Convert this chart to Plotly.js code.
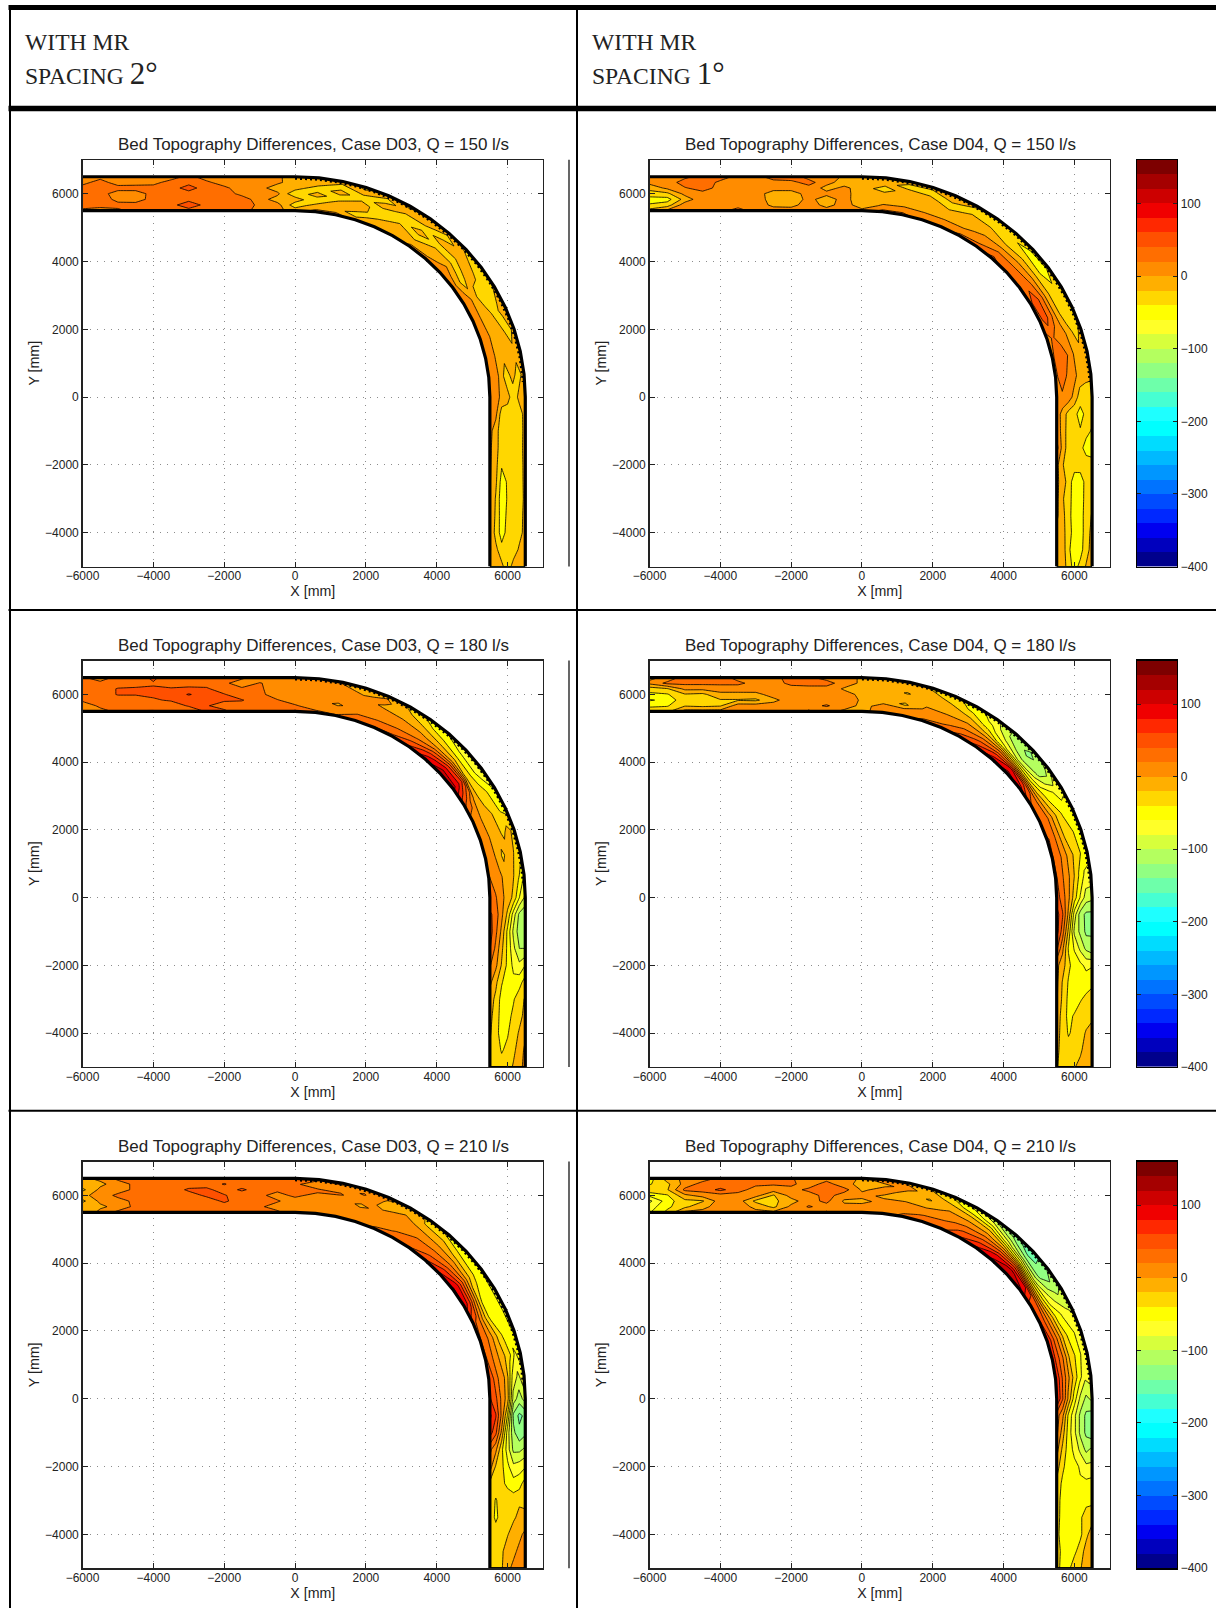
<!DOCTYPE html>
<html><head><meta charset="utf-8">
<script src="https://cdn.plot.ly/plotly-3.0.1.min.js"></script>
<style>html,body{margin:0;padding:0;background:#fff}#c{width:1216px;height:1608px}</style>
</head><body><div id="c"></div>
<script>
const inletX=[-6000,-5500,-5000,-4500,-4000,-3500,-3000,-2500,-2000,-1500,-1000,-500,0];
const bendDeg=[6,12,18,24,30,36,42,48,54,60,66,72,78,84,90];
const outletY=[-500,-1000,-1500,-2000,-2500,-3000,-3500,-4000,-4500,-5000];
const lateral=[5500,5667,5833,6000,6167,6333,6500];
const xTicks=[-6000,-4000,-2000,0,2000,4000,6000];
const yTicks=[-4000,-2000,0,2000,4000,6000];
const barTicks=[-400,-300,-200,-100,0,100];
const bandBottoms=[-400,-380,-360,-340,-320,-300,-280,-260,-240,-220,-200,-180,-160,-140,-120,-100,-80,-60,-40,-20,0,20,40,60,80,100,120,140];
const bandColors=['rgb(0,0,140)','rgb(0,0,190)','rgb(0,0,240)','rgb(0,40,255)','rgb(0,75,255)','rgb(0,115,255)','rgb(0,150,255)','rgb(0,185,255)','rgb(0,220,255)','rgb(0,255,255)','rgb(30,255,255)','rgb(70,255,210)','rgb(110,255,170)','rgb(145,255,130)','rgb(180,255,95)','rgb(215,255,60)','rgb(255,255,40)','rgb(255,255,0)','rgb(255,215,0)','rgb(255,175,0)','rgb(255,140,0)','rgb(255,110,0)','rgb(255,80,0)','rgb(255,40,0)','rgb(240,0,0)','rgb(205,0,0)','rgb(165,0,0)','rgb(125,0,0)'];

const d03q150=[
[15,30,30,30,30,12,8],[8,30,35,30,30,30,12],[15,28,12,8,30,8,6],[28,30,8,6,32,8,6],[30,32,30,30,30,12,8],[30,32,30,28,30,30,8],[30,55,32,30,50,32,28],[30,32,30,30,28,25,8],[30,30,30,30,26,8,5],[26,30,30,14,6,8,5],[14,16,10,5,8,5,4],[5,8,-10,5,-12,5,3],[-8,-32,-8,-38,-10,-12,-8],
[6,-10,-38,-8,-36,-8,-5],[8,-12,-6,-36,-8,-34,-6],[-8,-32,-8,-6,-36,-8,-30],[-12,-6,-36,-38,-6,-32,-6],[-12,-16,-6,-36,-32,-6,-30],[5,-8,-36,-6,-34,-6,-8],[8,-8,-6,-34,-8,-36,-6],[10,6,-6,-36,-8,-6,-30],[12,-6,-32,-8,-12,-38,-28],[12,6,-6,-32,-38,-34,-14],[8,5,-8,-12,-32,-14,-8],[14,12,-6,-10,-14,-34,-8],[16,12,-8,-10,-12,-10,-8],[18,12,-6,-34,-10,-32,-8],[14,10,-6,-10,-36,-12,-6],
[12,5,-30,-34,-36,-32,-10],[6,-10,-34,-36,-39,-34,-10],[4,-12,-32,-36,-35,-32,-10],[3,-14,-38,-35,-36,-32,-12],[2,-16,-48,-38,-34,-30,-14],[2,-22,-52,-38,-34,-32,-14],[2,-24,-50,-36,-34,-30,-12],[2,-28,-48,-34,-33,-28,-12],[2,-14,-34,-38,-33,-16,-10],[-2,-10,-14,-34,-10,-8,-6]];
const d04q150=[
[-12,-38,-48,-30,-12,6,6],[5,-30,-48,-25,4,6,6],[8,12,-12,6,18,32,14],[12,14,14,12,30,35,30],[14,12,12,14,12,14,32],[28,12,12,14,12,14,12],[12,14,12,12,14,10,12],[12,-6,-10,-12,10,12,30],[12,-8,-12,-12,10,14,32],[12,12,6,10,12,28,12],[10,-8,-10,5,-6,6,14],[12,10,8,6,4,-8,-4],[6,-12,-14,-10,-8,-12,-10],
[28,4,-10,-10,-32,-10,-8],[28,6,-8,-6,-6,-30,-8],[10,6,-12,-8,-10,-34,-10],[10,5,-8,-14,-34,-12,-14],[28,6,-6,-14,-14,-32,-14],[32,14,6,-10,-18,-36,-30],[48,30,12,-14,-30,-36,-36],[30,30,12,-8,-30,-48,-34],[30,32,18,-8,-36,-52,-34],[35,52,30,-8,-30,-34,-28],[30,50,28,-6,-30,-30,-28],[14,22,12,6,-12,-30,-12],[16,30,30,14,-8,-12,-14],[14,30,18,10,-8,-12,-16],[14,16,12,-8,-30,-34,-30],
[12,-8,-28,-34,-48,-34,-34],[14,-8,-30,-34,-38,-34,-42],[28,-8,-30,-38,-34,-48,-50],[6,-18,-34,-32,-30,-30,-32],[4,-8,-30,-50,-52,-32,-30],[6,-18,-30,-52,-48,-34,-24],[4,-14,-32,-52,-48,-32,-18],[-4,-12,-32,-48,-50,-30,-14],[-3,-10,-34,-58,-48,-28,-12],[-3,-8,-30,-48,-34,-18,-8]];
const d03q180=[
[5,5,25,25,25,25,22],[12,25,25,25,25,24,12],[25,27,25,42,42,25,25],[42,27,25,42,45,25,28],[42,30,38,43,42,38,45],[25,30,42,45,42,30,25],[25,42,45,62,45,30,25],[42,42,45,48,44,28,25],[45,30,43,42,24,24,22],[25,28,42,22,23,10,24],[25,24,23,24,23,21,10],[22,22,21,12,10,14,12],[45,22,12,14,8,12,10],
[25,12,8,10,3,9,5],[22,10,-3,10,5,8,-3],[30,22,10,12,8,-4,-3],[42,25,12,10,-3,5,-4],[45,30,14,5,-5,-15,-25],[65,42,18,3,-15,-35,-45],[95,72,35,-5,-28,-50,-62],[115,95,55,-5,-40,-62,-75],[110,90,58,-25,-45,-70,-85],[50,28,-3,-25,-35,-45,-65],[8,5,-6,-15,-25,-42,-45],[12,8,-5,-8,-25,-12,-30],[15,10,-5,-25,-8,-22,-35],[22,12,3,-8,-15,-35,-60],[22,22,5,-8,-25,-60,-85],
[45,30,5,-25,-70,-105,-115],[50,25,-5,-45,-85,-110,-112],[42,15,-15,-45,-75,-100,-100],[22,5,-22,-45,-65,-75,-60],[5,-15,-38,-52,-55,-48,-30],[-10,-25,-48,-50,-42,-28,-18],[-15,-28,-50,-47,-35,-25,-15],[-18,-30,-52,-42,-28,-18,-5],[-22,-30,-42,-35,-24,-12,5],[-22,-30,-32,-28,-18,-5,5]];
const d04q180=[
[-25,-45,-62,-45,-30,5,-5],[-25,-42,-55,-42,-22,25,5],[8,-22,-25,-22,5,25,30],[8,-25,-28,-25,5,25,28],[8,-22,-22,-5,8,25,30],[10,10,-22,-5,8,25,12],[10,10,-24,-6,10,12,10],[10,8,-5,8,10,12,12],[10,12,10,10,12,25,30],[22,14,10,8,12,28,25],[8,22,10,8,10,30,10],[-5,10,12,6,-2,8,8],[-6,-5,-3,-4,-5,-3,-3],
[10,6,-5,-6,-8,-5,-8],[12,8,-25,-5,-22,-8,-12],[25,10,5,-5,-8,-12,-25],[30,15,5,-5,-12,-28,-35],[50,30,12,-5,-25,-45,-50],[70,45,15,-22,-50,-65,-75],[95,65,15,-55,-85,-105,-105],[110,85,-10,-85,-115,-125,-115],[95,55,-30,-75,-105,-110,-85],[42,25,-15,-45,-55,-70,-62],[30,35,5,-22,-42,-50,-55],[45,30,5,-22,-30,-45,-50],[42,30,10,-10,-28,-42,-55],[45,25,8,-15,-42,-65,-65],[50,30,5,-30,-62,-90,-95],
[70,42,-5,-70,-110,-125,-125],[70,30,-25,-85,-105,-125,-122],[45,5,-42,-62,-85,-105,-115],[5,-10,-35,-50,-55,-65,-62],[5,-22,-42,-50,-50,-50,-45],[3,-25,-45,-50,-42,-35,-30],[-5,-30,-45,-38,-30,-28,-25],[-12,-28,-42,-35,-28,-18,-10],[-15,-28,-32,-35,-25,-8,-5],[-18,-30,-28,-22,-12,-8,-5]];
const d03q210=[
[-25,-5,-25,-5,-25,-5,-5],[8,-5,5,8,5,-5,5],[25,8,12,25,10,10,25],[25,25,25,25,25,25,25],[28,25,27,25,26,28,25],[30,28,25,25,24,23,25],[26,25,24,27,45,24,22],[25,24,25,45,48,25,24],[25,26,45,43,25,42,25],[25,25,25,22,45,24,23],[25,23,22,25,25,22,25],[24,12,22,12,25,23,22],[8,12,10,25,22,23,25],
[5,12,8,10,25,10,22],[8,5,10,8,22,12,24],[12,8,5,-3,8,22,10],[25,10,6,5,-4,-3,5],[25,22,12,5,5,-4,-6],[42,28,22,10,-5,-22,-25],[62,42,25,5,-8,-28,-50],[85,62,30,5,-25,-45,-62],[105,85,42,-5,-35,-50,-62],[100,70,15,-38,-48,-55,-65],[50,30,-10,-45,-50,-55,-65],[42,28,5,-22,-45,-55,-62],[45,25,5,-15,-30,-62,-55],[62,35,10,-5,-62,-85,-62],[62,45,15,-10,-90,-110,-90],
[85,62,15,-42,-125,-145,-135],[70,45,-5,-70,-115,-135,-125],[25,5,-35,-70,-105,-105,-95],[10,-22,-35,-55,-75,-70,-62],[-25,-28,-35,-45,-52,-48,-30],[-25,-42,-30,-28,-30,-25,-25],[-25,-45,-30,-25,-25,-12,-15],[-26,-28,-25,-22,-5,-5,5],[-28,-25,-25,-5,-5,5,5],[-30,-28,-22,-5,5,5,5]];
const d04q210=[
[-62,-70,-85,-55,-25,-42,-50],[-35,-45,-50,-42,-22,-25,-10],[5,-25,-25,-5,25,8,5],[5,-5,-22,8,28,28,10],[8,8,10,12,45,25,25],[8,10,10,12,28,25,24],[5,-5,-25,8,12,24,25],[5,-25,-25,-22,10,22,24],[22,5,-8,8,12,25,22],[8,22,12,10,25,8,10],[22,12,25,28,35,30,10],[10,5,-3,10,28,5,8],[8,5,-4,5,-3,-5,-3],
[12,8,5,-3,8,-3,10],[25,15,8,-4,-8,5,-4],[28,22,5,-5,-22,-8,-25],[35,25,15,3,-5,-30,-45],[62,45,25,5,-15,-50,-70],[85,62,35,5,-25,-70,-105],[105,90,45,-10,-70,-110,-135],[110,105,50,-42,-110,-145,-155],[105,85,-10,-85,-125,-135,-115],[50,42,-25,-70,-90,-105,-95],[65,35,-5,-45,-62,-75,-85],[85,45,10,-30,-50,-62,-70],[75,45,15,-25,-42,-62,-65],[85,45,10,-22,-50,-75,-70],[85,42,-5,-50,-85,-105,-95],
[30,5,-45,-75,-105,-125,-130],[25,-10,-50,-75,-105,-125,-135],[8,-25,-50,-65,-85,-105,-95],[-10,-35,-52,-55,-62,-75,-75],[-25,-45,-52,-50,-58,-55,-52],[-28,-50,-45,-52,-48,-50,-45],[-30,-50,-42,-50,-45,-25,-28],[-35,-48,-42,-48,-45,-25,-10],[-32,-45,-48,-45,-30,-12,-5],[-35,-45,-45,-28,-22,-8,-5]];

const caseLabels=['D03','D04'];
const flows=[150,180,210];
const panels=[d03q150,d04q150,d03q180,d04q180,d03q210,d04q210];

const W=1216,H=1608;
const rowTop=[159.8,660.6,1161.5], rowBot=[566.6,1066.9,1568.2];
const colL=[82.5,649.5], colR=[543,1109.8];
const barL=1137,barR=1177;
const px=v=>v/W, py=v=>1-v/H;
const rad=d=>d*Math.PI/180;

// A hairline rim round the mesh, hidden under the walls, keeps every contour a closed loop so the fills stay whole.
const RIM=200, EPS=0.5;
const gridR=[5500,5500+EPS,...lateral.slice(1,6),6500-EPS,6500];
const gridInlet=[-6000,-6000+EPS,...inletX.slice(1)];
const gridOutlet=[...outletY.slice(0,9),-5000+EPS,-5000];
const gridX=gridR.map(r=>[...gridInlet, ...bendDeg.map(d=>r*Math.sin(rad(d))), ...gridOutlet.map(_=>r)]);
const gridY=gridR.map(r=>[...gridInlet.map(_=>r), ...bendDeg.map(d=>r*Math.cos(rad(d))), ...gridOutlet]);
const aIdx=gridX[0].map((_,i)=>i), bIdx=gridR.map((_,i)=>i);
const toothDeg=[];for(let d=0;d<=86;d+=0.5)toothDeg.push(d);
const nc=29;
const contourScale=[[0,bandColors[0]]].concat(bandColors.map((c,i)=>[(i+1)/nc,c])).concat([[1,bandColors[27]]]);
const stepScale=[];bandColors.forEach((c,i)=>{stepScale.push([i/28,c]);stepScale.push([(i+1)/28,c]);});

const FONT='Liberation Sans, Arial, sans-serif';
const traces=[],layout={width:W,height:H,margin:{l:0,r:0,t:0,b:0},paper_bgcolor:'#fff',plot_bgcolor:'#fff',showlegend:false,font:{family:FONT,color:'#222',size:12},annotations:[],shapes:[]};
const hLine=(y,w,x0=8.5)=>({type:'line',xref:'paper',yref:'paper',x0:px(x0),x1:1,y0:py(y),y1:py(y),line:{color:'#000',width:w},layer:'above'});
const vLine=(x,y0,y1,w)=>({type:'line',xref:'paper',yref:'paper',x0:px(x),x1:px(x),y0:py(y0),y1:py(y1),line:{color:'#000',width:w},layer:'above'});
layout.shapes.push(hLine(7.5,5),hLine(108.5,5.5),hLine(610,2),hLine(1110.7,2),vLine(10,5,1608,2),vLine(577,5,1608,2));

panels.forEach((vals,k)=>{
  const col=k%2,row=Math.floor(k/2),id=k+1,sfx=id===1?'':String(id);
  const cid='carpet'+id;
  const base={ticks:'inside',ticklen:5,tickcolor:'#222',showline:true,linecolor:'#222',linewidth:1.3,mirror:'allticks',showgrid:true,gridcolor:'#8c8c8c',griddash:'1px,6px',gridwidth:1,zeroline:false,tickfont:{size:12,color:'#222'},tickmode:'array'};
  layout['xaxis'+sfx]=Object.assign({},base,{domain:[px(colL[col]),px(colR[col])],range:[-6000,7000],anchor:'y'+sfx,tickvals:xTicks,ticklabelstandoff:-2,title:{text:'X [mm]',font:{size:14.2,color:'#222'},standoff:2}});
  layout['yaxis'+sfx]=Object.assign({},base,{domain:[py(rowBot[row]),py(rowTop[row])],range:[-5000,7000],anchor:'x'+sfx,tickvals:yTicks,title:{text:'Y [mm]',font:{size:14.2,color:'#222'},standoff:2}});
  const hidden={showgrid:false,showticklabels:'none',showline:false,smoothing:0,minorgridcount:0,ticks:''};
  traces.push({type:'carpet',carpet:cid,a:aIdx,b:bIdx,x:gridX,y:gridY,xaxis:'x'+sfx,yaxis:'y'+sfx,
    aaxis:Object.assign({},hidden,{startline:false,endline:false}),
    baxis:Object.assign({},hidden,{startline:true,endline:true,startlinewidth:3.2,endlinewidth:3.2,startlinecolor:'#000',endlinecolor:'#000'})});
  const z=[aIdx.map(_=>RIM),...lateral.map((_,j)=>[RIM,...vals.map(r=>r[j]),RIM]),aIdx.map(_=>RIM)];
  traces.push({type:'contourcarpet',carpet:cid,a:aIdx,b:bIdx,z:z,autocontour:false,contours:{start:-400,end:160,size:20,coloring:'fill',showlines:true},line:{color:'#000',width:0.8,smoothing:0},colorscale:contourScale,showscale:false,xaxis:'x'+sfx,yaxis:'y'+sfx});
  traces.push({type:'scatter',mode:'lines',x:toothDeg.map(d=>6452*Math.sin(rad(d))),y:toothDeg.map(d=>6452*Math.cos(rad(d))),line:{color:'#000',width:2.6,dash:'2px,3px'},hoverinfo:'skip',xaxis:'x'+sfx,yaxis:'y'+sfx});
  layout.annotations.push({xref:'paper',yref:'paper',x:px((colL[col]+colR[col])/2+1),y:py(rowTop[row]-15),xanchor:'center',yanchor:'middle',showarrow:false,text:`Bed Topography Differences, Case ${caseLabels[col]}, Q = ${flows[row]} l/s`,font:{size:17,color:'#222',family:FONT}});
  if(col===0) layout.shapes.push(vLine(569,rowTop[row],rowBot[row],1.2));
});
flows.forEach((_,row)=>{
  const id=7+row;
  layout['xaxis'+id]={domain:[px(barL),px(barR)],range:[-0.5,0.5],anchor:'y'+id,showticklabels:false,ticks:'',showgrid:false,zeroline:false,showline:true,linecolor:'#000',linewidth:1.3,mirror:true};
  layout['yaxis'+id]={domain:[py(rowBot[row]),py(rowTop[row])],range:[-400,160],anchor:'x'+id,side:'right',tickmode:'array',tickvals:barTicks,ticks:'inside',ticklen:4,tickcolor:'#222',mirror:'allticks',showline:true,linecolor:'#000',linewidth:1.3,showgrid:false,zeroline:false,tickfont:{size:12,color:'#222'}};
  traces.push({type:'heatmap',x:[0],y:bandBottoms.map(v=>v+10),z:bandBottoms.map(v=>[v+10]),zmin:-400,zmax:160,colorscale:stepScale,showscale:false,xaxis:'x'+id,yaxis:'y'+id});
});
const serif='Liberation Serif, serif';
[['2',22.5],['1',590]].forEach(([deg,x])=>{
  layout.annotations.push({xref:'paper',yref:'paper',x:px(x),y:py(41.5),xanchor:'left',yanchor:'middle',showarrow:false,text:'WITH MR',font:{family:serif,size:23.6,color:'#222'}});
  layout.annotations.push({xref:'paper',yref:'paper',x:px(x),y:py(73.5),xanchor:'left',yanchor:'middle',showarrow:false,text:`SPACING <span style="font-size:31px">${deg}°</span>`,font:{family:serif,size:23.6,color:'#222'}});
});
Plotly.newPlot('c',traces,layout,{displayModeBar:false,staticPlot:true});
</script></body></html>
